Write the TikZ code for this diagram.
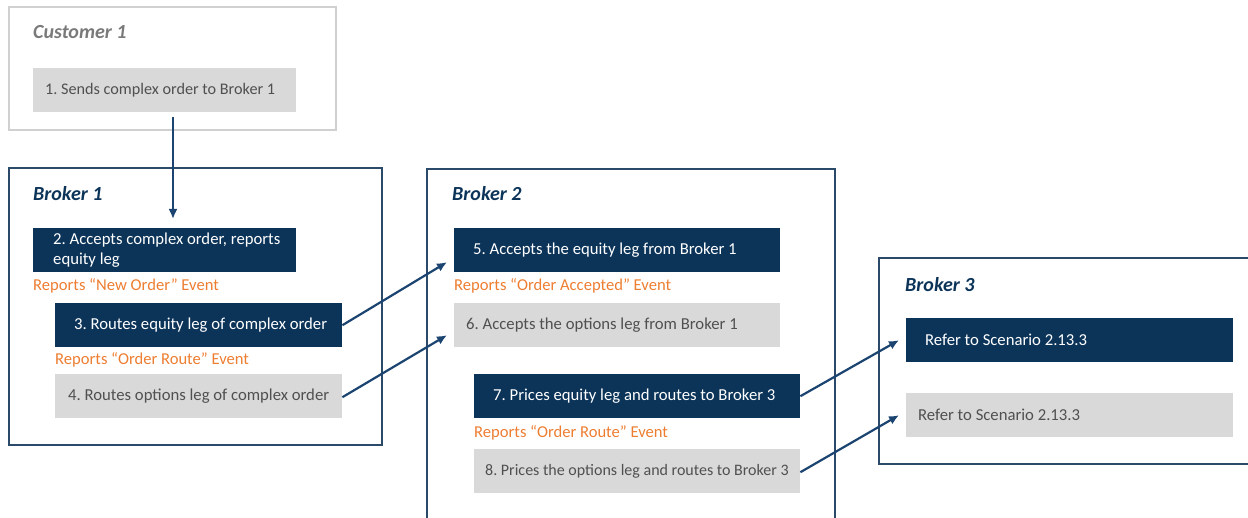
\documentclass[tikz,border=0pt]{standalone}
\usepackage{fontspec}
\setmainfont{Carlito}
\usetikzlibrary{arrows.meta,calc}
\definecolor{navy}{HTML}{0C3459}
\definecolor{frameblue}{HTML}{2B4A6A}
\definecolor{arrowblue}{HTML}{1B4470}
\definecolor{boxgray}{HTML}{D9D9D9}
\definecolor{txtgray}{HTML}{505050}
\definecolor{orangetxt}{HTML}{ED7D31}
\definecolor{custgray}{HTML}{D0D0D0}
\definecolor{titlegray}{HTML}{7A7A7A}
\tikzset{
  boxbase/.style={anchor=north west, minimum height=44pt, inner sep=0pt},
  navybox/.style={boxbase, fill=navy},
  graybox/.style={boxbase, fill=boxgray},
  txtbase/.style={anchor=west, inner sep=0pt, align=left, font=\fontsize{16.7}{20}\selectfont},
  wtxt/.style={txtbase, text=white},
  gtxt/.style={txtbase, text=txtgray},
  frame/.style={draw=frameblue, line width=1.5pt},
  title/.style={anchor=west, font=\fontsize{20}{24}\selectfont\bfseries\itshape, text=navy, inner sep=0pt},
  evt/.style={anchor=west, font=\fontsize{16.6}{20}\selectfont, text=orangetxt, inner sep=0pt},
  flow/.style={draw=arrowblue, line width=2.2pt, -{Latex[length=10pt,width=9pt]}}
}
\frenchspacing
\begin{document}
\begin{tikzpicture}[x=1pt,y=-1pt]
\useasboundingbox (0,0) rectangle (1248,518);
% Customer
\draw[draw=custgray, line width=1.5pt] (9,7) rectangle (336,130);
\node[title, text=titlegray] (tc) at (33,32) {Customer 1};
\node[graybox, minimum width=263pt] (b1) at (33,68) {};
\node[gtxt, font=\fontsize{16.2}{20}\selectfont] (l1) at ($(b1.west)+(12,0)$) {1. Sends complex order to Broker 1};
% Broker 1
\draw[frame] (9,168) rectangle (382,445);
\node[title] (t1) at (33,194) {Broker 1};
\node[navybox, minimum width=263pt] (b2) at (33,228) {};
\node[wtxt] (l2) at ($(b2.west)+(20,0)$) {2. Accepts complex order, reports\\equity leg};
\node[evt] (e1) at (33,286) {Reports “New Order” Event};
\node[navybox, minimum width=287pt] (b3) at (55,303) {};
\node[wtxt] (l3) at ($(b3.west)+(19,0)$) {3. Routes equity leg of complex order};
\node[evt] (e2) at (55,360) {Reports “Order Route” Event};
\node[graybox, minimum width=287pt] (b4) at (55,374) {};
\node[gtxt] (l4) at ($(b4.west)+(13,0)$) {4. Routes options leg of complex order};
% Broker 2
\draw[frame] (427,530) -- (427,169) -- (835,169) -- (835,530);
\node[title] (t2) at (452,194) {Broker 2};
\node[navybox, minimum width=326pt] (b5) at (454,228) {};
\node[wtxt] (l5) at ($(b5.west)+(19,0)$) {5. Accepts the equity leg from Broker 1};
\node[evt] (e3) at (454,286) {Reports “Order Accepted” Event};
\node[graybox, minimum width=326pt] (b6) at (454,303) {};
\node[gtxt] (l6) at ($(b6.west)+(12,0)$) {6. Accepts the options leg from Broker 1};
\node[navybox, minimum width=326pt] (b7) at (474,374) {};
\node[wtxt] (l7) at ($(b7.west)+(19,0)$) {7. Prices equity leg and routes to Broker 3};
\node[evt] (e4) at (474,433) {Reports “Order Route” Event};
\node[graybox, minimum width=326pt] (b8) at (474,449) {};
\node[gtxt, font=\fontsize{16}{20}\selectfont] (l8) at ($(b8.west)+(11,0)$) {8. Prices the options leg and routes to Broker 3};
% Broker 3
\draw[frame] (1255,258) -- (879,258) -- (879,464) -- (1255,464);
\node[title] (t3) at (905,285) {Broker 3};
\node[navybox, minimum width=327pt] (b9) at (906,318) {};
\node[wtxt] (l9) at ($(b9.west)+(19,0)$) {Refer to Scenario 2.13.3};
\node[graybox, minimum width=327pt] (b10) at (906,393) {};
\node[gtxt] (l10) at ($(b10.west)+(12,0)$) {Refer to Scenario 2.13.3};
% connectors
\coordinate (a1s) at (173,117);
\coordinate (a1e) at (173,219);
\draw[flow] (a1s) -- (a1e);
\draw[flow] (b3.east) -- ($(b5.west)+(-7,12)$);
\draw[flow] ($(b4.east)+(0,1)$) -- ($(b6.west)+(-7,10)$);
\draw[flow] (b7.east) -- ($(b9.west)+(-7,0)$);
\draw[flow] ($(b8.east)+(0,1)$) -- ($(b10.west)+(-7,0)$);
\end{tikzpicture}
\end{document}
